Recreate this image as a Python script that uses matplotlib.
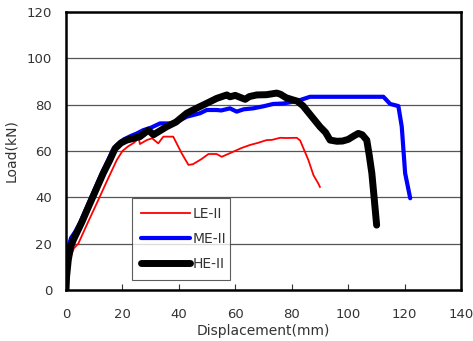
import matplotlib
matplotlib.use("Agg")
import matplotlib.pyplot as plt

le_x = [0, 0.6, 1.5, 2.8, 4.4, 7.5, 10.9, 14.5, 18, 20, 22, 24, 25.8, 26.2, 28.6, 30.5, 32.7, 34.5, 38, 41, 43.4, 45, 48, 50.5, 53.4, 55.2, 59.3, 62, 65.2, 68, 71.1, 73, 75.9, 78, 81.8, 83, 85.9, 87.7, 89.4, 90]
le_y = [0, 8, 14, 18, 20.1, 28.5, 37.4, 47, 56.1, 60, 62, 63.5, 65.5, 63, 64.7, 65.5, 63.3, 66.2, 66.2, 59, 54, 54.3, 56.5, 58.7, 58.7, 57.5, 59.7, 61.2, 62.6, 63.5, 64.7, 64.8, 65.7, 65.6, 65.7, 64.5, 56.1, 49.6, 46, 44.5]

me_x = [0, 0.3, 0.7, 1.8, 3.2, 5, 8, 12.7, 16.5, 18, 20.5, 23, 25, 27.4, 30, 33.3, 38, 40, 42.8, 45, 47.5, 49.9, 53.4, 55, 58.1, 60.5, 63, 66.3, 70, 73.4, 77, 80.6, 83, 86.5, 100, 112.5, 114.9, 117.8, 119, 120.2, 122]
me_y = [0, 12, 18, 22.5, 25, 29, 37.4, 50.4, 60, 62.5, 65, 66.5, 67.5, 69, 70, 71.9, 71.9, 73, 74.8, 75.5, 76.3, 77.7, 77.7, 77.5, 78.4, 77, 78, 78.4, 79.3, 80.3, 80.5, 81.3, 82, 83.4, 83.4, 83.4, 80.3, 79.4, 70.5, 50.4, 39.6]

he_x = [0, 0.2, 0.8, 1.6, 2.6, 5.5, 8.5, 13.2, 15.5, 17.4, 19.5, 21.5, 24, 26.2, 29.2, 31, 33, 35.7, 39, 42.8, 46, 49.9, 53.4, 57, 58.1, 60, 63.5, 65, 67.6, 71, 74.7, 76, 78, 80.6, 82, 84, 87, 90, 92, 93.6, 96, 98, 100, 102, 103.6, 105, 106.6, 107.5, 108.4, 109.2, 110.1]
he_y = [0, 5.7, 12.9, 18.5, 21.6, 29, 37.4, 50.4, 56, 61.1, 63.5, 64.7, 65.5, 66.2, 69, 67, 68.5, 70.5, 72.5, 76.3, 78.3, 80.6, 82.7, 84.2, 83.4, 84, 82.3, 83.5, 84.2, 84.3, 85, 84.5, 83, 82, 81.5, 79.5, 75, 70.5, 68, 64.7, 64.2, 64.3, 65, 66.5, 67.6, 67, 64.7, 58, 50.4, 40, 28]

x_ticks = [0, 20, 40, 60, 80, 100, 120, 140]
y_ticks = [0, 20, 40, 60, 80, 100, 120]
labels = ["LE-II", "ME-II", "HE-II"]

fig = plt.figure(figsize=(4.73, 3.41), dpi=100)
ax = fig.add_axes([66/473, 1 - 290/341, (461-66)/473, (290-12)/341])

for yv in y_ticks[1:-1]:
    ax.axhline(yv, color="#555555", lw=0.9, zorder=0)

ax.plot(le_x, le_y, color="#ff0000", lw=1.3, label=labels[0], solid_joinstyle="round")
ax.plot(me_x, me_y, color="#0000ff", lw=3.0, label=labels[1], solid_joinstyle="round", solid_capstyle="round")
ax.plot(he_x, he_y, color="#000000", lw=5.0, label=labels[2], solid_joinstyle="round", solid_capstyle="round")

ax.set_xlim(0, 140)
ax.set_ylim(0, 120)
ax.set_xticks(x_ticks)
ax.set_yticks(y_ticks)
ax.tick_params(axis="x", direction="in", length=4, width=0.8, color="#333333", labelsize=9.5, labelcolor="#333333", pad=13)
ax.tick_params(axis="y", length=0, labelsize=9.5, labelcolor="#333333", pad=10)
for s in ax.spines.values():
    s.set_linewidth(1.8)
    s.set_color("black")

ax.set_xlabel("Displacement(mm)", fontsize=10, color="#333333", labelpad=2)
ax.set_ylabel("Load(kN)", fontsize=10, color="#333333", labelpad=6)

leg = ax.legend(loc="upper left", bbox_to_anchor=((125-66)/395, (290-191)/278, (237-125)/395, 0.0),
                mode="expand", fontsize=10, frameon=True, fancybox=False, edgecolor="#333333",
                handlelength=3.5, handletextpad=0.2, labelspacing=0.8, borderpad=0.65, labelcolor="#333333")
leg.get_frame().set_linewidth(0.8)

fig.savefig("out.png", dpi=100)
